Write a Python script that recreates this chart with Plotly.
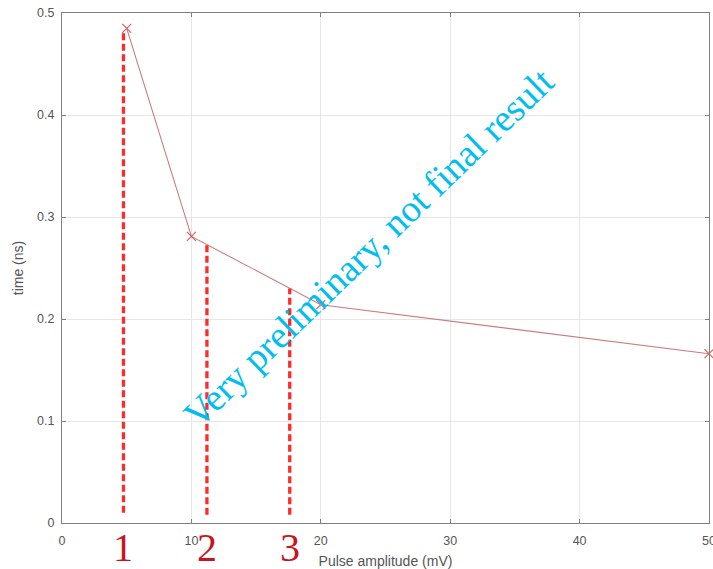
import plotly.graph_objects as go

# Data
amplitude_mv = [5, 10, 20, 50]
time_ns = [0.485, 0.281, 0.214, 0.166]

marker_x = [4.75, 11.2, 17.6]
marker_top = [0.482, 0.275, 0.230]
marker_bottom = [0.010, 0.008, 0.008]
marker_labels = ["1", "2", "3"]

x_ticks = [0, 10, 20, 30, 40, 50]
y_ticks = [0, 0.1, 0.2, 0.3, 0.4, 0.5]

watermark = "Very preliminary, not final result"

fig = go.Figure()

fig.add_trace(go.Scatter(
    x=amplitude_mv, y=time_ns, mode="lines+markers",
    line=dict(color="rgb(200,125,125)", width=1.1),
    marker=dict(symbol="x-thin", size=9, line=dict(color="rgb(220,90,90)", width=1.1)),
    showlegend=False, cliponaxis=False,
))

for xv, top, bot in zip(marker_x, marker_top, marker_bottom):
    fig.add_trace(go.Scatter(
        x=[xv, xv], y=[bot, top], mode="lines",
        line=dict(color="#ff2a2a", width=3.3, dash="7px,3.5px"),
        showlegend=False,
    ))

for xv, lab in zip(marker_x, marker_labels):
    fig.add_annotation(
        x=xv, y=-0.049, xref="x", yref="paper", text=lab, showarrow=False,
        xanchor="center", yanchor="middle",
        font=dict(family="Liberation Serif", size=40, color="#c8141c"),
    )

fig.add_annotation(
    x=23.65, y=0.27, xref="x", yref="y", text=watermark, showarrow=False,
    textangle=-44, xanchor="center", yanchor="middle",
    font=dict(family="Liberation Serif", size=38, color="rgb(0,190,240)"),
)

axis_common = dict(
    showgrid=True, gridcolor="#e6e6e6", gridwidth=1,
    showline=True, linecolor="#808080", linewidth=1.2, mirror="ticks",
    ticks="inside", ticklen=4, tickcolor="#808080", tickwidth=1,
    zeroline=False, ticklabeloverflow="allow",
    tickfont=dict(family="Liberation Sans", size=12.5, color="#555555"),
)

fig.update_xaxes(
    range=[0, 50], tickvals=x_ticks, ticktext=[str(v) for v in x_ticks],
    title=dict(text="Pulse amplitude (mV)", standoff=9,
               font=dict(family="Liberation Sans", size=14, color="#555555")),
    ticklabelstandoff=6,
    **axis_common,
)
fig.update_yaxes(
    range=[0, 0.5], tickvals=y_ticks, ticktext=["0", "0.1", "0.2", "0.3", "0.4", "0.5"],
    title=dict(text="time (ns)", standoff=10,
               font=dict(family="Liberation Sans", size=14, color="#555555")),
    ticklabelstandoff=4,
    **axis_common,
)

fig.update_layout(
    width=713, height=569,
    margin=dict(l=62, r=4, t=13, b=46, autoexpand=False),
    plot_bgcolor="white", paper_bgcolor="white",
)

fig.write_html("out.html")
